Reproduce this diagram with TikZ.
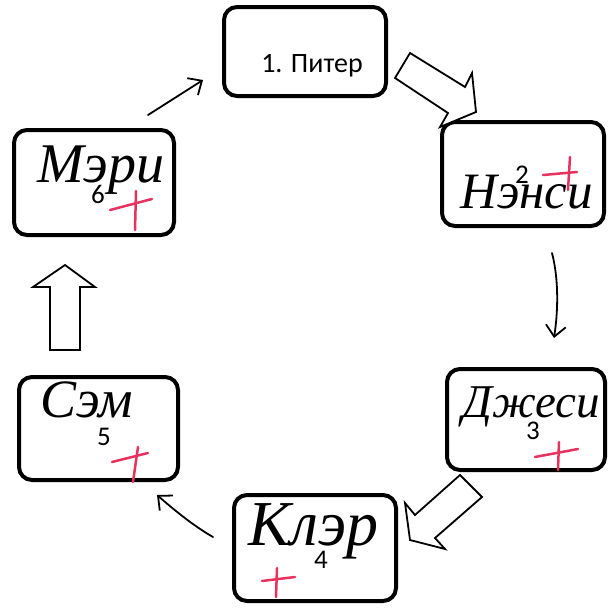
\documentclass[tikz,border=0pt]{standalone}
\usepackage{fontspec}
\newfontfamily\handfont{Liberation Serif}
\newfontfamily\calib{Carlito}
\usetikzlibrary{arrows.meta}
\definecolor{crossred}{HTML}{E8325E}
\begin{document}
\begin{tikzpicture}[x=1pt,y=-1pt,
  namebox/.style={draw=black, line width=4pt, rounded corners=13pt, inner sep=0pt},
  handtext/.style={font=\handfont\itshape\fontsize{#1}{#1}\selectfont, inner sep=0pt, anchor=base west, text depth=0pt},
  numtext/.style={font=\calib\fontsize{27}{27}\selectfont, inner sep=0pt},
  crossline/.style={draw=crossred, line width=2.5pt, line cap=round},
  thinarrow/.style={line width=1.8pt, line cap=round, -{Straight Barb[length=11pt,width=20pt]}},
  blockarrow/.style={draw=black, line width=1.8pt, fill=white, line join=miter}
]
\useasboundingbox (0,0) rectangle (613,608);

% boxes
\node[namebox, minimum width=162pt, minimum height=89pt] (peter) at (305,51.5) {};
\node[namebox, minimum width=162pt, minimum height=104pt] (nancy) at (523,174) {};
\node[namebox, minimum width=158pt, minimum height=101pt] (jesi) at (526,419.5) {};
\node[namebox, minimum width=162pt, minimum height=106pt] (klair) at (315,548) {};
\node[namebox, minimum width=159pt, minimum height=103pt] (sam) at (98.5,428.5) {};
\node[namebox, minimum width=160pt, minimum height=105pt] (mary) at (94,182.5) {};

% texts
\node[font=\calib\fontsize{28}{28}\selectfont, inner sep=0pt, anchor=base] (ptext) at (312,72) {1. Питер};
\node[handtext=51] (ntext) at (460,208) {Нэнси};
\node[handtext=47] (jtext) at (462,417) {Джеси};
\node[handtext=64] (ktext) at (248,545) {Клэр};
\node[handtext=54] (stext) at (40,417) {Сэм};
\node[handtext=56] (mtext) at (37,182) {Мэри};

\node[numtext] (n2) at (522,175) {2};
\node[numtext] (n3) at (533,431) {3};
\node[numtext] (n4) at (321,560) {4};
\node[numtext] (n5) at (104,437) {5};
\node[numtext] (n6) at (98,194) {6};

% red crosses
\draw[crossline] (543,175) -- (577,172); \draw[crossline] (570,157) -- (568,190);
\draw[crossline] (535,457) -- (578,449); \draw[crossline] (559,442) -- (558,470);
\draw[crossline] (262,581) -- (295,577); \draw[crossline] (277,568) -- (276,597);
\draw[crossline] (112,462) -- (148,453); \draw[crossline] (138,447) -- (133,482);
\draw[crossline] (110,210) -- (152,199); \draw[crossline] (136,191) -- (135,230);

% block arrows
\draw[blockarrow] (410,53) -- (465,87) -- (472,73) -- (476,112) -- (440,127) -- (448,113) -- (395,78) -- cycle;
\draw[blockarrow] (460,475) -- (415,515) -- (405,503) -- (410,540) -- (445,549) -- (435,538) -- (482,497) -- cycle;
\draw[blockarrow] (50,350) -- (50,287) -- (33,287) -- (65,265) -- (95,287) -- (80,287) -- (80,350) -- cycle;

% thin arrows
\coordinate (a1s) at (552,253); \coordinate (a1e) at (554,338);
\draw[thinarrow] (a1s) .. controls (559,280) and (558,312) .. (a1e);
\coordinate (a2s) at (213,537); \coordinate (a2e) at (157,495);
\draw[thinarrow] (a2s) .. controls (192,525) and (172,508) .. (a2e);
\coordinate (a3s) at (148,115); \coordinate (a3e) at (203,80);
\draw[thinarrow] (a3s) -- (a3e);
\end{tikzpicture}
\end{document}
